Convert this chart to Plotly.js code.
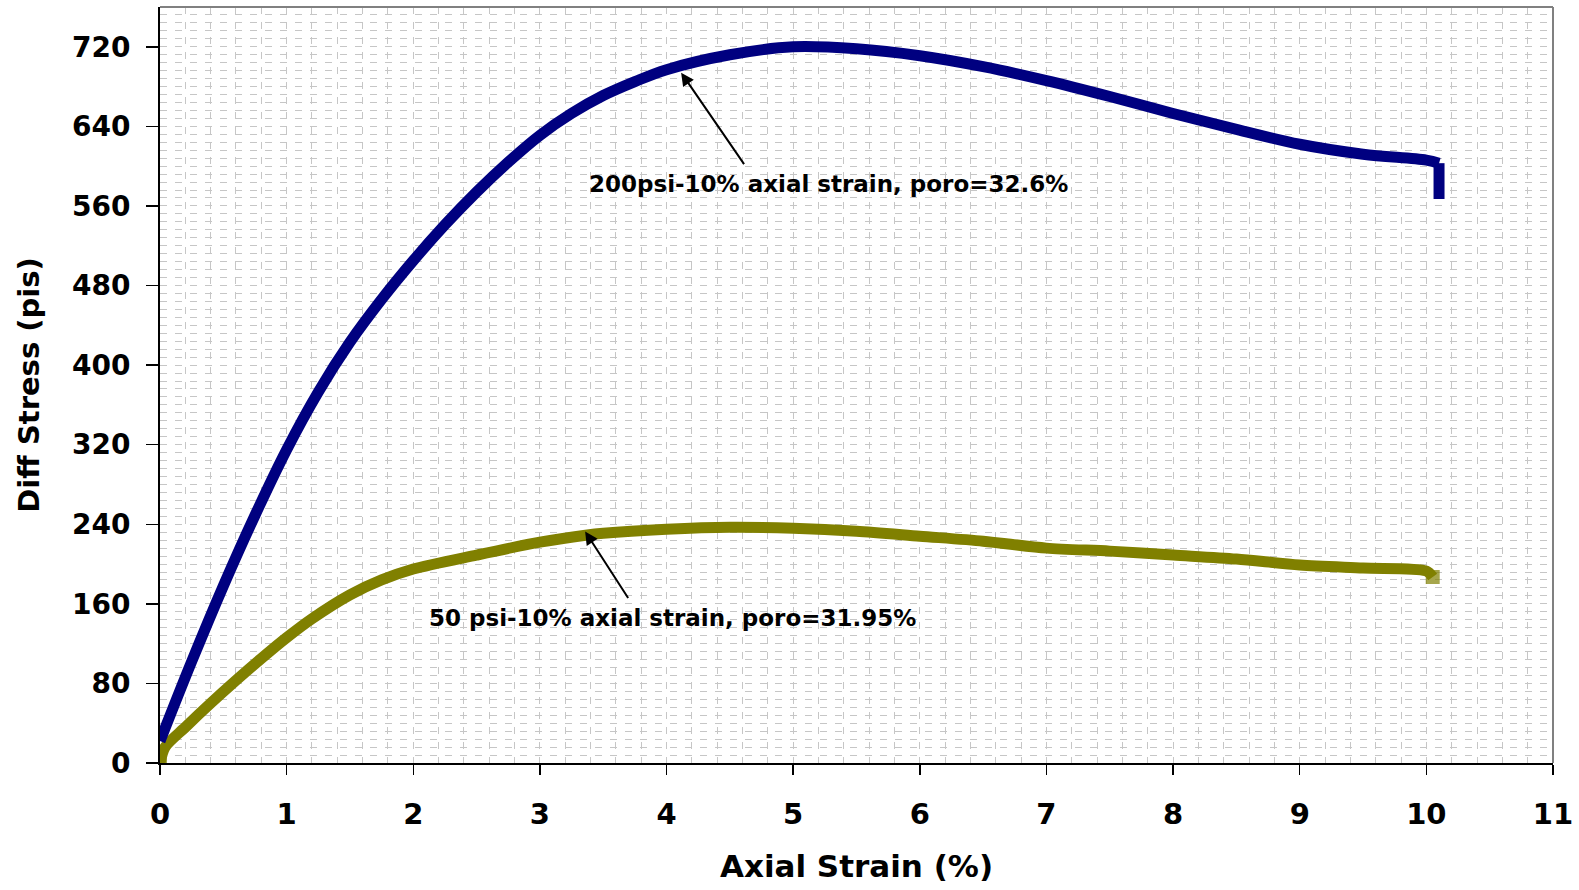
<!DOCTYPE html>
<html>
<head>
<meta charset="utf-8">
<script src="https://cdn.plot.ly/plotly-3.0.1.min.js"></script>
<style>
  html, body { margin: 0; padding: 0; background: #ffffff; }
  #chart { width: 1579px; height: 890px; }
</style>
</head>
<body>
<div id="chart"></div>
<script>
// Stress–strain curve, 200 psi confining pressure
const highX = [0, 0.25, 0.50, 0.75, 1.00, 1.25, 1.50, 1.75, 2.00, 2.25, 2.50, 2.75, 3.00, 3.25, 3.50, 3.75, 4.00, 4.50, 5.00, 5.50, 6.00, 6.50, 7.00, 7.50, 8.00, 8.50, 9.00, 9.50, 10.00, 10.10];
const highY = [22, 102, 178, 249, 315, 373, 423, 466, 505, 541, 574, 604, 631, 653, 671, 685, 697, 712, 720, 718, 711, 700, 686, 670, 653, 637, 622, 612, 606, 603];
// final unloading step at the end of the 200 psi test
const highEndX = [10.10, 10.10];
const highEndY = [603, 567];

// Stress–strain curve, 50 psi confining pressure
const lowX = [0, 0.04, 0.20, 0.40, 0.60, 0.80, 1.00, 1.20, 1.50, 1.75, 2.00, 2.50, 3.00, 3.36, 3.50, 4.00, 4.50, 5.00, 5.50, 6.00, 6.50, 7.00, 7.50, 8.00, 8.50, 9.00, 9.50, 10.00, 10.05];
const lowY = [0, 16, 36, 60, 83, 105, 126, 145, 169, 184, 195, 209, 222, 229, 231, 235, 237, 236, 233, 228, 223, 216, 213, 209, 205, 199, 196, 193, 187];

const yTicks = [0, 80, 160, 240, 320, 400, 480, 560, 640, 720];
const xTicks = [0, 1, 2, 3, 4, 5, 6, 7, 8, 9, 10, 11];

const highLabel = '200psi-10% axial strain, poro=32.6%';
const lowLabel = '50 psi-10% axial strain, poro=31.95%';

const NAVY = '#000080';
const OLIVE = '#808000';
const FONT = 'DejaVu Sans, Arial, sans-serif';
const GRID = '#c6c6c6';

const lastLow = lowX.length - 1;

const traces = [
  {
    x: lowX, y: lowY, type: 'scatter', mode: 'lines+markers',
    line: { color: OLIVE, width: 11, shape: 'spline', smoothing: 0.8 },
    marker: { symbol: 'square', color: OLIVE, size: lowX.map((_, i) => (i === 0 || i === lastLow) ? 14 : 0), line: { width: 0 } },
    showlegend: false, hoverinfo: 'x+y'
  },
  {
    x: highX, y: highY, type: 'scatter', mode: 'lines',
    line: { color: NAVY, width: 11, shape: 'spline', smoothing: 1 },
    showlegend: false, hoverinfo: 'x+y'
  },
  {
    x: highEndX, y: highEndY, type: 'scatter', mode: 'lines',
    line: { color: NAVY, width: 11 },
    showlegend: false, hoverinfo: 'x+y'
  }
];

const layout = {
  width: 1579, height: 890,
  margin: { l: 160, r: 26, t: 7, b: 127 },
  paper_bgcolor: '#ffffff', plot_bgcolor: '#ffffff',
  font: { family: FONT, color: '#000000' },
  xaxis: {
    range: [0, 11], tickvals: xTicks, ticktext: xTicks.map(String),
    showline: true, linecolor: '#000000', linewidth: 2,
    ticks: 'outside', ticklen: 10, tickwidth: 1.5, tickcolor: '#000000',
    ticklabelstandoff: 14,
    tickfont: { family: FONT, size: 29, color: '#000000', weight: 'bold' },
    showgrid: true, gridcolor: GRID, gridwidth: 1, griddash: '7px,8px',
    minor: { dtick: 0.2, showgrid: true, gridcolor: GRID, gridwidth: 1, griddash: '7px,8px' },
    zeroline: false, fixedrange: true,
    title: { text: 'Axial Strain (%)', font: { family: FONT, size: 31, color: '#000000', weight: 'bold' }, standoff: 26 }
  },
  yaxis: {
    range: [0, 760], tickvals: yTicks, ticktext: yTicks.map(String),
    showline: true, linecolor: '#000000', linewidth: 2,
    ticks: 'outside', ticklen: 12, tickwidth: 1.5, tickcolor: '#000000',
    ticklabelstandoff: 10,
    tickfont: { family: FONT, size: 28, color: '#000000', weight: 'bold' },
    showgrid: true, gridcolor: GRID, gridwidth: 1, griddash: '7px,8px',
    minor: { dtick: 8, showgrid: true, gridcolor: GRID, gridwidth: 1, griddash: '7px,8px' },
    zeroline: false, fixedrange: true,
    title: { text: 'Diff Stress (pis)', font: { family: FONT, size: 29, color: '#000000', weight: 'bold' }, standoff: 24 }
  },
  shapes: [
    { type: 'line', xref: 'paper', yref: 'paper', x0: 0, x1: 1, y0: 1, y1: 1, line: { color: '#808080', width: 2 } },
    { type: 'line', xref: 'paper', yref: 'paper', x0: 1, x1: 1, y0: 0, y1: 1, line: { color: '#808080', width: 2 } }
  ],
  annotations: [
    {
      x: 4.115, y: 694, xref: 'x', yref: 'y', ax: 64, ay: 93, axref: 'pixel', ayref: 'pixel',
      showarrow: true, arrowhead: 2, arrowsize: 1.3, arrowwidth: 2, arrowcolor: '#000000', text: ''
    },
    {
      x: 3.357, y: 232.8, xref: 'x', yref: 'y', ax: 44, ay: 68, axref: 'pixel', ayref: 'pixel',
      showarrow: true, arrowhead: 2, arrowsize: 1.3, arrowwidth: 2, arrowcolor: '#000000', text: ''
    },
    {
      x: 5.276, y: 582, xref: 'x', yref: 'y', showarrow: false, text: highLabel,
      font: { family: FONT, size: 23, color: '#000000', weight: 'bold' }
    },
    {
      x: 4.05, y: 146, xref: 'x', yref: 'y', showarrow: false, text: lowLabel,
      font: { family: FONT, size: 23, color: '#000000', weight: 'bold' }
    }
  ]
};

Plotly.newPlot('chart', traces, layout, { displayModeBar: false, staticPlot: true });
</script>
</body>
</html>
